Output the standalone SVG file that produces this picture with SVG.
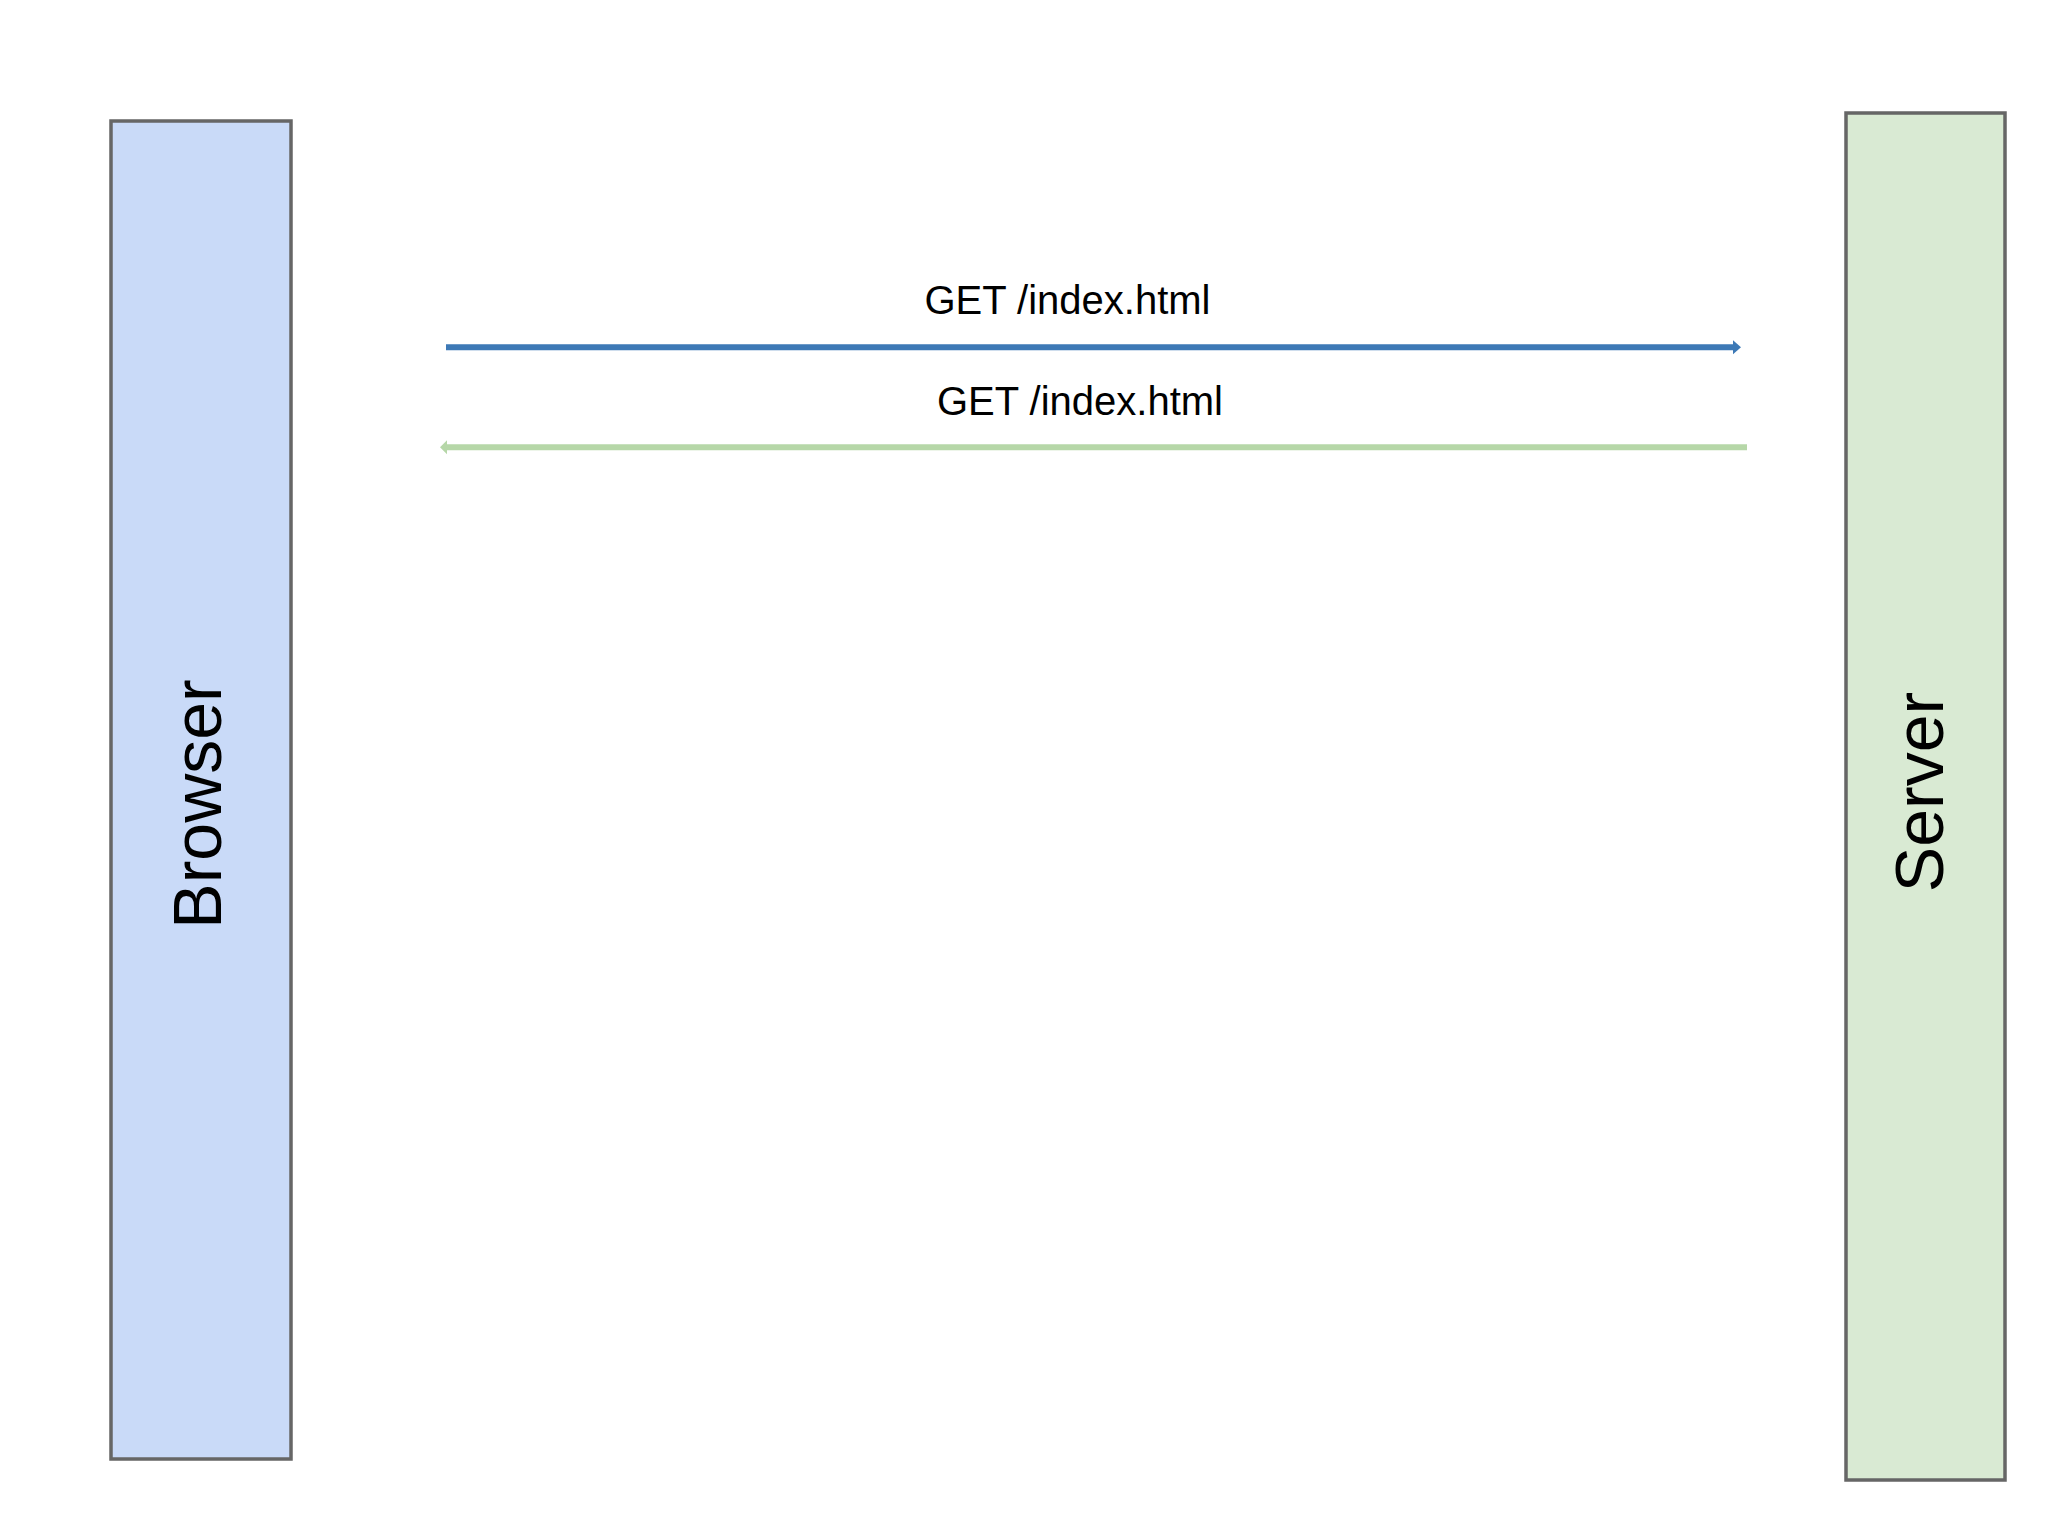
<svg xmlns="http://www.w3.org/2000/svg" width="2048" height="1536" viewBox="0 0 2048 1536">
  <style>
    .node { stroke: #666666; stroke-width: 3.5; }
    .label { font-family: "Liberation Sans", Arial, sans-serif; fill: #000000; }
    .msg { font-size: 40px; text-anchor: middle; }
    .title { font-size: 68px; text-anchor: middle; }
  </style>
  <defs>
    <marker id="headBlue" markerUnits="userSpaceOnUse" markerWidth="10" markerHeight="16" refX="0" refY="7" orient="auto" viewBox="0 0 10 14">
      <polygon points="0,0 8,7 0,14" fill="#3d79b6"/>
    </marker>
    <marker id="headGreen" markerUnits="userSpaceOnUse" markerWidth="10" markerHeight="16" refX="0" refY="7" orient="auto" viewBox="0 0 10 14">
      <polygon points="0,0 7,7 0,14" fill="#b6d7a8"/>
    </marker>
  </defs>
  <rect width="2048" height="1536" fill="#ffffff"/>
  <g id="browser">
    <rect class="node" x="111" y="121" width="180" height="1338" fill="#c9daf8"/>
    <text class="label title" transform="translate(221,804) rotate(-90)">Browser</text>
  </g>
  <g id="server">
    <rect class="node" x="1846" y="113" width="159" height="1367" fill="#d9ead3"/>
    <text class="label title" transform="translate(1943,792) rotate(-90)">Server</text>
  </g>
  <g id="connectors">
    <line x1="446" y1="347.3" x2="1733" y2="347.3" stroke="#3d79b6" stroke-width="6" marker-end="url(#headBlue)"/>
    <text class="label msg" x="1067.5" y="313.5">GET /index.html</text>
    <line x1="1747" y1="447.3" x2="447" y2="447.3" stroke="#b6d7a8" stroke-width="6" marker-end="url(#headGreen)"/>
    <text class="label msg" x="1080" y="415">GET /index.html</text>
  </g>
</svg>
